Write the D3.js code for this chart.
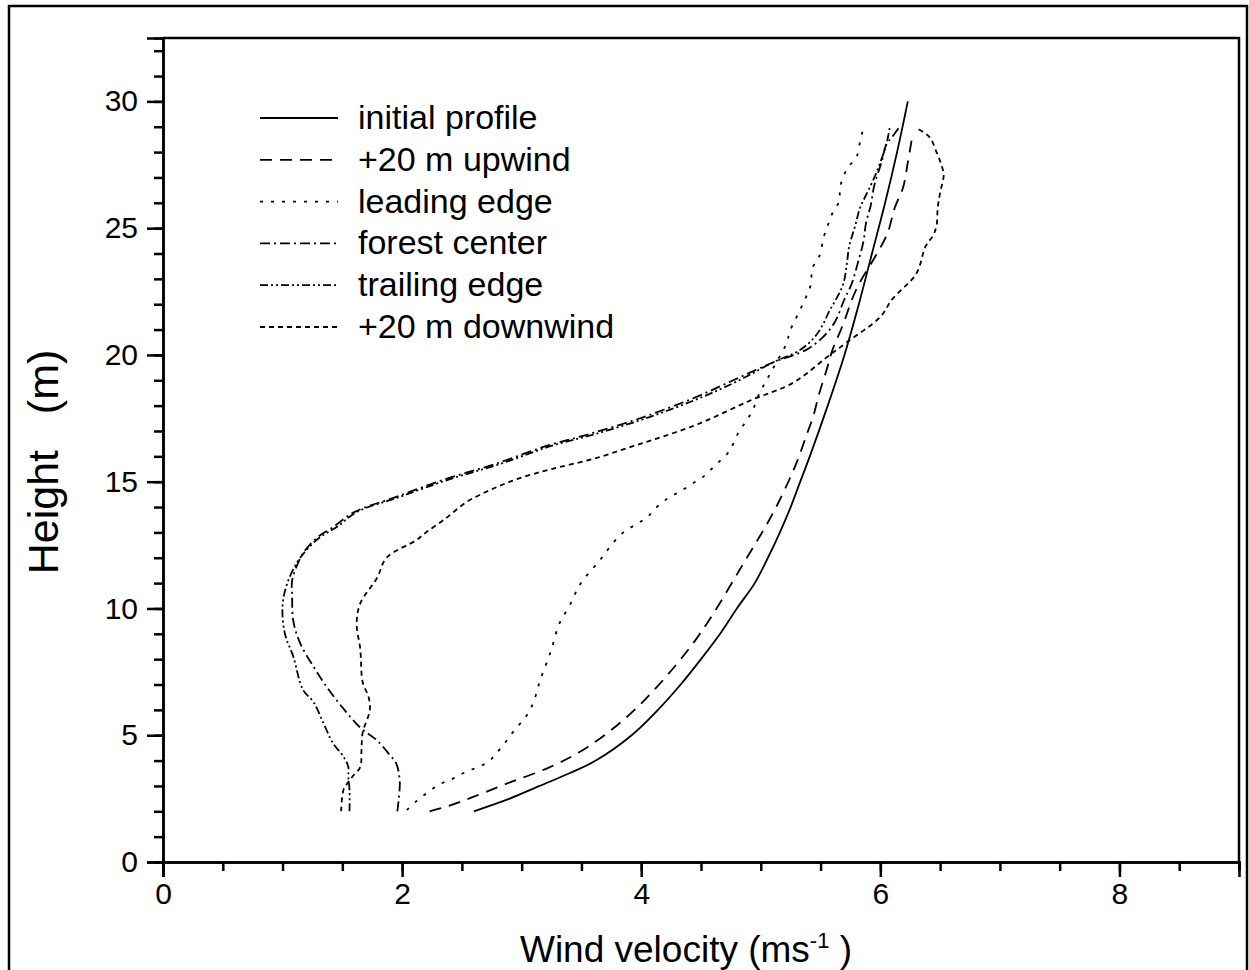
<!DOCTYPE html>
<html>
<head>
<meta charset="utf-8">
<script src="https://cdn.jsdelivr.net/npm/d3@7"></script>
<style>
  body { margin: 0; background: #fff; }
  svg { display: block; }
  text { font-family: Arial, "Liberation Sans", sans-serif; fill: #000; }
</style>
</head>
<body>
<div class="chart_container"></div>
<script>
// profiles: [height (m), wind velocity (m/s)]
const initialProfile = [[2,2.6],[2.5,2.9],[3,3.15],[3.5,3.4],[4,3.62],[5,3.92],[6,4.14],[7,4.33],[8,4.5],[9,4.66],[10,4.8],[11,4.95],[12,5.06],[13,5.16],[14,5.25],[15,5.33],[16,5.41],[18,5.56],[20,5.7],[22,5.82],[24,5.93],[26,6.04],[28,6.14],[30,6.23]];
const upwind = [[2,2.23],[2.2,2.38],[2.56,2.59],[3.1,2.88],[3.75,3.24],[4.5,3.54],[5.6,3.85],[6.9,4.13],[8.6,4.43],[10,4.63],[11.5,4.82],[12.6,4.96],[13.4,5.06],[14.2,5.15],[15.2,5.25],[16,5.32],[16.8,5.38],[17.6,5.44],[18.5,5.49],[19.4,5.55],[20.2,5.6],[21.1,5.68],[22.6,5.8],[23.9,5.96],[24.8,6.06],[25.8,6.12],[26.6,6.19],[27.6,6.23],[28.7,6.27]];
const leadingEdge = [[2.05,2.04],[2.4,2.12],[2.8,2.23],[3.1,2.33],[3.3,2.43],[3.5,2.51],[3.7,2.61],[3.95,2.72],[4.3,2.79],[4.7,2.86],[5.2,2.94],[5.7,3.03],[6.1,3.08],[6.6,3.12],[7.1,3.15],[7.5,3.18],[8,3.22],[8.4,3.25],[8.9,3.28],[9.35,3.31],[9.7,3.35],[10.2,3.41],[10.7,3.46],[11.1,3.51],[11.6,3.6],[12,3.67],[12.5,3.75],[13,3.85],[13.3,3.95],[13.6,4.05],[14,4.13],[14.4,4.24],[14.6,4.32],[14.9,4.42],[15.2,4.52],[15.7,4.63],[16.1,4.72],[16.5,4.77],[17,4.82],[17.4,4.88],[17.8,4.93],[18.5,4.99],[19.1,5.06],[19.7,5.13],[20.5,5.22],[20.9,5.24],[21.5,5.3],[22.3,5.38],[22.8,5.42],[23.4,5.43],[23.9,5.49],[24.7,5.53],[25.1,5.56],[25.6,5.6],[26.1,5.66],[26.5,5.66],[26.9,5.68],[27.4,5.73],[27.8,5.8],[28.4,5.83],[28.8,5.85]];
const forestCenter = [[2,1.96],[2.4,1.97],[3.2,1.98],[3.9,1.95],[4.2,1.9],[4.8,1.79],[5.3,1.65],[6.1,1.5],[6.9,1.37],[7.7,1.26],[8.6,1.15],[9.5,1.09],[10.5,1.08],[11.1,1.08],[11.8,1.13],[12.3,1.19],[12.8,1.29],[13.2,1.42],[13.8,1.6],[14.4,1.95],[15.1,2.36],[15.7,2.78],[16.4,3.2],[16.9,3.58],[17.55,4.02],[18.3,4.44],[19,4.77],[19.7,5.1],[20.2,5.38],[20.7,5.52],[21.3,5.62],[22.2,5.7],[22.8,5.76],[23.6,5.81],[24.5,5.86],[25.2,5.88],[25.9,5.92],[26.7,5.95],[27.6,6.01],[28.3,6.05],[28.6,6.1],[29,6.16]];
const trailingEdge = [[2,1.56],[2.85,1.56],[3.35,1.55],[3.75,1.55],[4.15,1.51],[4.7,1.42],[5.5,1.34],[6.3,1.26],[6.8,1.17],[8.1,1.09],[9,1.02],[10.1,1],[11,1.04],[11.8,1.12],[12.3,1.2],[12.8,1.31],[13.2,1.45],[13.8,1.62],[14.4,1.98],[15.1,2.4],[15.7,2.82],[16.4,3.24],[16.9,3.63],[17.55,4.07],[18.3,4.49],[19,4.82],[19.7,5.1],[20.2,5.33],[20.7,5.45],[21.2,5.52],[21.7,5.57],[22.2,5.63],[22.8,5.69],[23.6,5.72],[24.3,5.74],[25.1,5.79],[25.8,5.83],[26.3,5.88],[27,5.95],[27.6,6],[28.3,6.05],[29,6.08]];
const downwind = [[2,1.49],[2.85,1.51],[3.15,1.55],[3.4,1.59],[3.75,1.65],[4.4,1.66],[5.1,1.67],[6,1.73],[6.5,1.72],[7.1,1.67],[8.4,1.65],[9.4,1.62],[10.2,1.65],[11.2,1.79],[12,1.87],[12.7,2.12],[13,2.2],[13.5,2.35],[14.2,2.54],[14.7,2.75],[15.1,2.96],[15.5,3.25],[15.9,3.6],[16.4,3.93],[16.7,4.13],[17.3,4.49],[18.2,4.91],[18.9,5.27],[19.9,5.55],[20.5,5.72],[21.5,6],[22.2,6.1],[23.2,6.3],[24.3,6.38],[24.7,6.44],[25.1,6.47],[25.8,6.48],[26.4,6.5],[27.1,6.53],[27.5,6.51],[28,6.47],[28.6,6.41],[28.95,6.3]];

const seriesNames = ['initial profile','+20 m upwind','leading edge','forest center','trailing edge','+20 m downwind'];
const seriesData = [initialProfile, upwind, leadingEdge, forestCenter, trailingEdge, downwind];
const seriesDash = [null, '12,8', '3,8', '10,4,2,4', '8,3,2,3,2,3', '5,4'];

const xMajor = [0,2,4,6,8];
const yMajor = [0,5,10,15,20,25,30];

const W = 1249, H = 970;
const svg = d3.select('.chart_container').append('svg')
    .attr('width', W)
    .attr('height', H);

// outer frame
svg.append('rect')
    .attr('x', 9).attr('y', 6)
    .attr('width', 1238).attr('height', 980)
    .attr('fill', 'none').attr('stroke', '#000').attr('stroke-width', 2.5);

const pLeft = 163, pRight = 1239, pTop = 38, pBottom = 862;
const x = d3.scaleLinear().domain([0, 9]).range([pLeft, pRight]);
const y = d3.scaleLinear().domain([0, 32.5]).range([pBottom, pTop]);

// top and right frame lines of the plot
svg.append('path')
    .attr('d', 'M' + pLeft + ',' + pTop + 'H' + pRight + 'V' + pBottom)
    .attr('fill', 'none').attr('stroke', '#000').attr('stroke-width', 2.5);

function styleAxis(g) {
  g.select('.domain').attr('stroke-width', 2.5);
  g.selectAll('.tick line').attr('stroke-width', 2.5);
  g.selectAll('.tick text').style('font-size', '30px').style('font-family', 'Arial, "Liberation Sans", sans-serif');
}

// minor ticks first, majors over them
svg.append('g')
    .attr('transform', 'translate(0,' + pBottom + ')')
    .call(d3.axisBottom(x).tickValues(d3.range(0, 9.01, 0.5)).tickSize(9).tickFormat(''))
    .call(styleAxis);
svg.append('g')
    .attr('transform', 'translate(0,' + pBottom + ')')
    .call(d3.axisBottom(x).tickValues(xMajor).tickSize(15).tickPadding(6).tickFormat(d3.format('d')))
    .call(styleAxis);
svg.append('g')
    .attr('transform', 'translate(' + pLeft + ',0)')
    .call(d3.axisLeft(y).tickValues(d3.range(0, 32.01, 1)).tickSize(9).tickFormat(''))
    .call(styleAxis);
svg.append('g')
    .attr('transform', 'translate(' + pLeft + ',0)')
    .call(d3.axisLeft(y).tickValues(yMajor).tickSize(16).tickPadding(9).tickFormat(d3.format('d')))
    .call(styleAxis);

// axis titles
const xt = svg.append('text')
    .attr('x', 686).attr('y', 962)
    .attr('text-anchor', 'middle')
    .style('font-size', '37px');
xt.append('tspan').text('Wind velocity (ms');
xt.append('tspan').attr('dy', -14).style('font-size', '22px').text('-1');
xt.append('tspan').attr('dy', 14).text(' )');

svg.append('text')
    .attr('transform', 'translate(58,462) rotate(-90)')
    .attr('text-anchor', 'middle')
    .style('font-size', '43px')
    .text('Height\u00a0\u00a0 (m)');

// profiles
const line = d3.line()
    .x(function(d) { return x(d[1]); })
    .y(function(d) { return y(d[0]); })
    .curve(d3.curveCatmullRom.alpha(0.5));

svg.append('g').selectAll('path')
    .data(seriesData)
  .enter().append('path')
    .attr('d', line)
    .attr('fill', 'none')
    .attr('stroke', '#000')
    .attr('stroke-width', 1.8)
    .attr('stroke-dasharray', function(d, i) { return seriesDash[i]; });

// legend
const legend = svg.append('g').selectAll('g')
    .data(seriesNames)
  .enter().append('g')
    .attr('transform', function(d, i) { return 'translate(260,' + (118 + i * 41.8) + ')'; });
legend.append('line')
    .attr('x1', 0).attr('x2', 78)
    .attr('stroke', '#000')
    .attr('stroke-width', 1.8)
    .attr('stroke-dasharray', function(d, i) { return seriesDash[i]; });
legend.append('text')
    .attr('x', 98).attr('y', 11)
    .style('font-size', '34px')
    .text(function(d) { return d; });
</script>
</body>
</html>
